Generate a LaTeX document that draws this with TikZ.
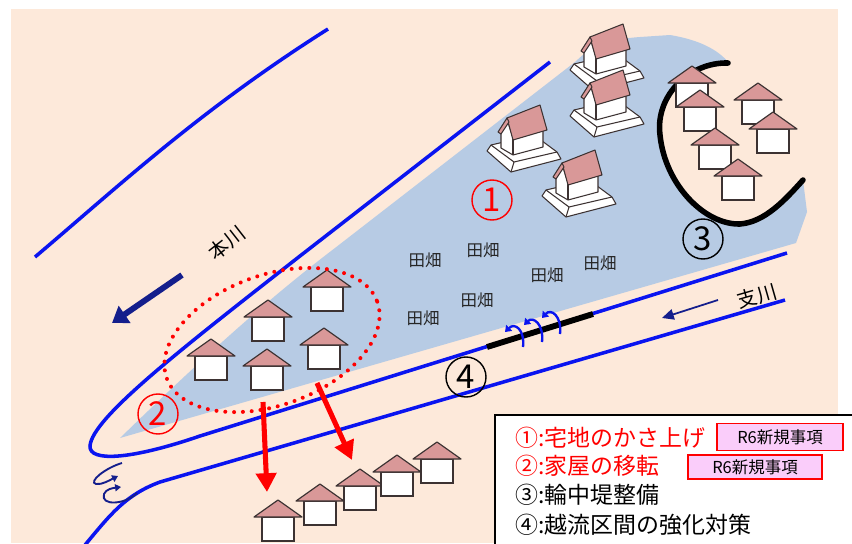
\documentclass[tikz,border=0pt]{standalone}
\usepackage{fontspec}
\setmainfont{Noto Sans CJK JP}
\usetikzlibrary{arrows.meta}

\definecolor{sand}{RGB}{253,233,218}
\definecolor{field}{RGB}{183,203,228}
\definecolor{bank}{RGB}{10,20,240}
\definecolor{navy}{RGB}{20,30,140}
\definecolor{roof}{RGB}{217,152,152}
\definecolor{edge}{RGB}{60,50,50}
\definecolor{badge}{RGB}{250,205,250}

\tikzset{
  house/.pic={
    \filldraw[fill=white,draw=edge,line width=1pt] (-16,0) rectangle (16,24);
    \filldraw[fill=roof,draw=edge,line width=1pt,line join=round] (-24,0) -- (0,-17) -- (24,0) -- cycle;
  },
  lifted/.pic={
    \filldraw[fill=white,draw=edge,line width=0.9pt,line join=round] (-37,4) -- (-13,25) -- (37,12) -- (33,5) -- (10,-12) -- (-33,-2) -- cycle;
    \draw[edge,line width=0.9pt,line join=round] (-33,-2) -- (-10,15) -- (33,5) (-10,15) -- (-13,25);
    \filldraw[fill=white,draw=edge,line width=0.9pt,line join=round] (-23,1) -- (-11,8) -- (19,0) -- (19,-17) -- (-11,-9) -- (-17,-28) -- (-23,-16) -- cycle;
    \draw[edge,line width=0.9pt] (-11,8) -- (-11,-9);
    \filldraw[fill=roof,draw=edge,line width=0.9pt,line join=round] (-17,-29) -- (16,-42) -- (23,-17) -- (-11,-7) -- cycle;
    \filldraw[fill=roof,draw=edge,line width=0.9pt,line join=round] (-17,-29) -- (-26,-15) -- (-23,-13) -- (-15,-25) -- cycle;
  }
}

\begin{document}
\begin{tikzpicture}[x=0.85pt,y=-0.85pt,
    bankline/.style={bank,line width=3pt},
    num/.style={circle,draw,line width=1.2pt,minimum size=34pt,inner sep=0pt,font=\fontsize{28}{28}\selectfont},
    crop/.style={font=\fontsize{14}{14}\selectfont,text=black!85},
    river/.style={font=\fontsize{17}{17}\selectfont},
    item/.style={anchor=west,font=\fontsize{19.5}{20}\selectfont},
    newtag/.style={draw=red,line width=1.6pt,fill=badge,inner sep=0pt,font=\fontsize{14}{14}\selectfont},
    flow/.style={bank,line width=2pt,-{Triangle[length=5pt,width=7pt]}},
    swirl/.style={navy,line width=1.6pt,-{Triangle[length=5pt,width=6pt]}},
    move/.style={red,line width=4.3pt,-{Triangle[length=16pt,width=17pt]}}]
  \useasboundingbox (0,0) rectangle (852,543);
  \clip (0,0) rectangle (852,543);
  \fill[sand] (11,9) rectangle (838,543);

  \fill[field] (120,438) .. controls (190,370) and (260,305) .. (335,248) -- (575,62)
    .. controls (590,48) and (600,40) .. (640,37) -- (670,35) .. controls (700,40) and (718,50) .. (728,62)
    .. controls (690,62) and (655,95) .. (660,135) .. controls (665,185) and (705,225) .. (740,224)
    .. controls (765,222) and (785,200) .. (803,180) -- (807,212) -- (796,243) -- cycle;

  \draw[bankline] (35,257) .. controls (120,185) and (200,110) .. (328,29);
  \draw[bankline] (550,62) -- (300,256) .. controls (180,350) and (92,418) .. (90,446)
    .. controls (89,462) and (130,460) .. (200,436) -- (787,253);
  \draw[bankline] (85,545) .. controls (110,515) and (125,495) .. (160,482) -- (785,300);

  \draw[black,line width=4.7pt,line cap=round] (728,63) .. controls (690,62) and (655,95) .. (660,135)
    .. controls (665,185) and (705,225) .. (740,224) .. controls (765,222) and (785,200) .. (803,180);
  \draw[black,line width=5pt] (487,347) -- (593,314);

  \draw[flow] (523,347) .. controls (525,330) and (515,322) .. (505,332);
  \draw[flow] (542,342) .. controls (544,324) and (533,316) .. (524,325);
  \draw[flow] (560,334) .. controls (562,316) and (551,308) .. (542,318);
  \draw[swirl] (122,463) .. controls (105,468) and (88,482) .. (96,484) .. controls (102,485) and (110,480) .. (118,476);
  \draw[swirl] (137,493) .. controls (125,505) and (100,506) .. (104,494) .. controls (106,489) and (113,488) .. (121,487);

  \pic at (607,66) {lifted};
  \pic at (607,112) {lifted};
  \pic at (524,147) {lifted};
  \pic at (579,192) {lifted};

  \foreach \p in {(692,83),(700,107),(758,100),(773,129),(715,145),(738,176),
                  (327,287),(268,317),(324,345),(211,356),(267,366),
                  (278,517),(320,501),(360,486),(397,472),(437,459)}
    \pic at \p {house};

  \draw[red,line width=3.4pt,dash pattern=on 0pt off 7.5pt,line cap=round,rotate around={20:(272,340)}]
    (272,340) ellipse [x radius=112, y radius=65];

  \coordinate (m1) at (263,402);
  \coordinate (m2) at (267,492);
  \coordinate (m3) at (317,383);
  \coordinate (m4) at (352,460);
  \coordinate (f1) at (182,275);
  \coordinate (f2) at (112,323);
  \coordinate (b1) at (718,300);
  \coordinate (b2) at (662,318);
  \path (m1) edge[move] (m2)
        (m3) edge[move] (m4)
        (f1) edge[navy,line width=5pt,-{Triangle[length=13pt,width=17pt]}] (f2)
        (b1) edge[navy,line width=1.5pt,-{Triangle[length=10pt,width=9pt]}] (b2);

  \node[river,rotate=38] (main) at (227,243) {本川};
  \node[river,rotate=16] (branch) at (757,296) {支川};

  \node[crop] (t1) at (425,260) {田畑};
  \node[crop] (t2) at (483,250) {田畑};
  \node[crop] (t3) at (547,275) {田畑};
  \node[crop] (t4) at (600,263) {田畑};
  \node[crop] (t5) at (477,300) {田畑};
  \node[crop] (t6) at (423,318) {田畑};

  \node[num,red] (c1) at (492,200) {1};
  \node[num,red] (c2) at (158,414) {2};
  \node[num] (c3) at (703,239) {3};
  \node[num] (c4) at (466,377) {4};

  \filldraw[fill=white,draw=black,line width=1.7pt] (495,415) rectangle (870,560);
  \node[item,text=red] (l1) at (511,438) {①:宅地のかさ上げ};
  \node[item,text=red] (l2) at (511,466) {②:家屋の移転};
  \node[item] (l3) at (511,495) {③:輪中堤整備};
  \node[item] (l4) at (511,525) {④:越流区間の強化対策};
  \node[newtag,minimum width=107pt,minimum height=23pt] (r1) at (780,437) {R6新規事項};
  \node[newtag,minimum width=114pt,minimum height=21pt] (r2) at (755,467) {R6新規事項};
\end{tikzpicture}
\end{document}
